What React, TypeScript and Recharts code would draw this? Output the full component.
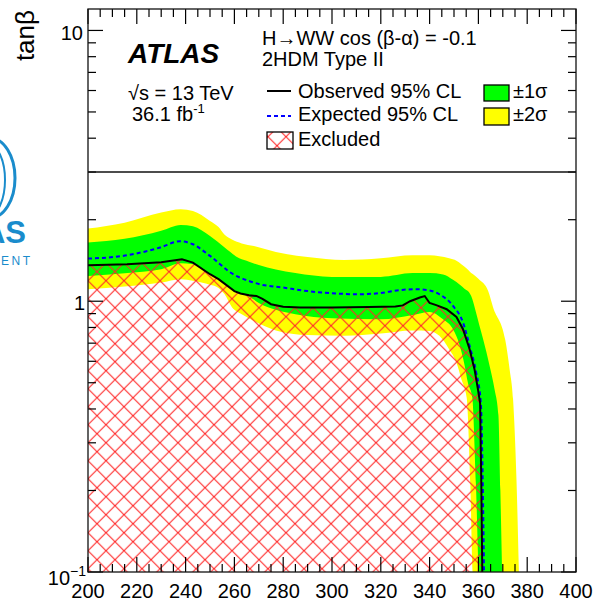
import { ComposedChart, Area, Line, XAxis, YAxis } from "recharts"

// ±2σ band (yellow), tanβ vs mH
const band2Mass = [200, 215, 230, 238, 243, 250, 253.5, 256, 259, 263, 268, 277, 290, 305, 320, 333, 340, 344, 348, 351, 353, 355.2, 356.7, 357.7, 360, 364, 366, 371, 372.8, 374.2, 375.6, 376.6]
const band2Low = [1.107, 1.133, 1.172, 1.206, 1.19, 1.15, 1.12, 1.06, 0.95, 0.895, 0.845, 0.78, 0.75, 0.745, 0.76, 0.78, 0.777, 0.745, 0.665, 0.594, 0.516, 0.44, 0.21, 0.1, 0.1, 0.1, 0.1, 0.1, 0.1, 0.1, 0.1, 0.1]
const band2High = [1.855, 1.95, 2.125, 2.185, 2.155, 1.98, 1.88, 1.76, 1.69, 1.635, 1.6, 1.52, 1.455, 1.42, 1.44, 1.478, 1.478, 1.465, 1.44, 1.41, 1.37, 1.32, 1.28, 1.26, 1.21, 1.09, 0.95, 0.72, 0.56, 0.435, 0.22, 0.1]

// ±1σ band (green)
const band1Mass = [200, 215, 230, 238, 243, 250, 256, 262, 266, 270, 277, 285, 300, 320, 333, 340, 345.5, 349.6, 352.4, 354.4, 355.7, 357.5, 359, 360.3, 362, 364.6, 366.6, 368.2, 369, 369.7]
const band1Low = [1.24, 1.268, 1.312, 1.38, 1.37, 1.26, 1.16, 1.07, 1.04, 0.985, 0.93, 0.895, 0.865, 0.858, 0.89, 0.913, 0.858, 0.788, 0.684, 0.577, 0.5, 0.44, 0.21, 0.1, 0.1, 0.1, 0.1, 0.1, 0.1, 0.1]
const band1High = [1.646, 1.7, 1.82, 1.913, 1.89, 1.74, 1.58, 1.44, 1.4, 1.36, 1.31, 1.27, 1.23, 1.23, 1.27, 1.27, 1.255, 1.2, 1.15, 1.11, 1.09, 1.02, 0.91, 0.82, 0.72, 0.577, 0.474, 0.38, 0.2, 0.1]

// observed limit
const obsMass = [200, 216, 230, 238.5, 243, 250, 253.5, 260, 262.5, 266, 269, 271.5, 275, 280, 287, 300, 315, 326, 329, 332, 336, 338, 340, 343, 347, 351, 353.7, 356.4, 358.4, 359.8, 360.7, 361.2, 361.6]
const obsVal = [1.358, 1.369, 1.393, 1.428, 1.389, 1.258, 1.206, 1.09, 1.068, 1.052, 1.046, 1.02, 0.975, 0.955, 0.948, 0.948, 0.952, 0.956, 0.965, 1.0, 1.032, 1.045, 0.985, 0.965, 0.934, 0.875, 0.788, 0.665, 0.561, 0.474, 0.42, 0.21, 0.1]

// expected limit
const expMass = [200, 216, 229.5, 237.7, 243, 250, 259.5, 266, 270.4, 280, 290, 300, 311, 319, 328, 334.6, 340, 344, 349.6, 353.7, 356.4, 359.1, 361, 361.8, 362.3]
const expVal = [1.437, 1.478, 1.578, 1.665, 1.623, 1.47, 1.258, 1.188, 1.155, 1.123, 1.09, 1.07, 1.061, 1.07, 1.1, 1.107, 1.095, 1.061, 0.961, 0.834, 0.684, 0.545, 0.42, 0.21, 0.1]

const xTicks = Array.from({ length: 41 }, (_, i) => 200 + i * 5)
const yTicks = [0.1, 0.2, 0.3, 0.4, 0.5, 0.6, 0.7, 0.8, 0.9, 1, 2, 3, 4, 5, 6, 7, 8, 9, 10]

const W = 596
const H = 604
const LEFT = 88
const TOP = 9
const RIGHT = 576
const BOTTOM = 572
const FONT = "'Liberation Sans', Arial, Helvetica, sans-serif"

const band2 = band2Mass.map((m, i) => ({ m, v: [band2Low[i], band2High[i]] }))
const band1 = band1Mass.map((m, i) => ({ m, v: [band1Low[i], band1High[i]] }))
const observed = obsMass.map((m, i) => ({ m, v: obsVal[i], r: [0.1, obsVal[i]] }))
const expected = expMass.map((m, i) => ({ m, v: expVal[i] }))

function XTick(props: any) {
  const { x, payload } = props
  const v = payload.value
  const major = v % 20 === 0
  const len = major ? 15 : 8
  return (
    <g>
      <line x1={x} x2={x} y1={BOTTOM} y2={BOTTOM - len} stroke="#000" strokeWidth={1.2} />
      <line x1={x} x2={x} y1={TOP} y2={TOP + len} stroke="#000" strokeWidth={1.2} />
      {major && (
        <text x={x} y={BOTTOM + 26} textAnchor="middle" fontSize={20} fontFamily={FONT} fill="#000">
          {v}
        </text>
      )}
    </g>
  )
}

function YTick(props: any) {
  const { y, payload } = props
  const v = payload.value
  const major = v === 0.1 || v === 1 || v === 10
  const len = major ? 15 : 8
  let label = null
  if (v === 10) label = <text x={LEFT - 5} y={y + 10} textAnchor="end" fontSize={20} fontFamily={FONT}>10</text>
  if (v === 1) label = <text x={LEFT - 3} y={y + 9} textAnchor="end" fontSize={20} fontFamily={FONT}>1</text>
  if (v === 0.1)
    label = (
      <text x={LEFT - 2} y={y + 13} textAnchor="end" fontSize={20} fontFamily={FONT}>
        10<tspan dy={-9} fontSize={14}>−1</tspan>
      </text>
    )
  return (
    <g>
      <line x1={LEFT} x2={LEFT + len} y1={y} y2={y} stroke="#000" strokeWidth={1.2} />
      <line x1={RIGHT} x2={RIGHT - len} y1={y} y2={y} stroke="#000" strokeWidth={1.2} />
      {label}
    </g>
  )
}

export default function App() {
  return (
    <div style={{ position: "absolute", left: 0, top: 0, width: W, height: H, background: "#fff", fontFamily: FONT }}>
      <svg width={0} height={0} style={{ position: "absolute" }}>
        <defs>
          <pattern id="hatch" patternUnits="userSpaceOnUse" x={88} y={10.7} width={18} height={18}>
            <path d="M0,0 L18,18 M0,18 L18,0" stroke="#ff2a2a" strokeWidth={1.1} />
          </pattern>
        </defs>
      </svg>
      <ComposedChart width={W} height={H} margin={{ top: TOP, right: W - RIGHT, bottom: 0, left: 28 }}>
        <XAxis
          dataKey="m"
          type="number"
          domain={[200, 400]}
          ticks={xTicks}
          interval={0}
          allowDataOverflow
          height={32}
          axisLine={false}
          tickLine={false}
          tickSize={0}
          tickMargin={0}
          tick={<XTick />}
        />
        <YAxis
          type="number"
          scale="log"
          domain={[0.1, 12]}
          ticks={yTicks}
          interval={0}
          allowDataOverflow
          width={60}
          axisLine={false}
          tickLine={false}
          tickSize={0}
          tickMargin={0}
          tick={<YTick />}
        />
        <Area data={band2} dataKey="v" type="monotone" stroke="none" fill="#ffff00" fillOpacity={1} isAnimationActive={false} />
        <Area data={band1} dataKey="v" type="monotone" stroke="none" fill="#00ff00" fillOpacity={1} isAnimationActive={false} />
        <Area data={observed} dataKey="r" type="linear" stroke="none" fill="url(#hatch)" fillOpacity={1} isAnimationActive={false} />
        <Line data={expected} dataKey="v" type="monotone" stroke="#0000ff" strokeWidth={2} strokeDasharray="4 3" dot={false} isAnimationActive={false} />
        <Line data={observed} dataKey="v" type="linear" stroke="#000" strokeWidth={2} dot={false} isAnimationActive={false} />
      </ComposedChart>
      <svg width={W} height={H} style={{ position: "absolute", left: 0, top: 0, pointerEvents: "none" }} fontFamily={FONT}>
        {/* frame and legend border */}
        <rect x={LEFT} y={TOP} width={RIGHT - LEFT} height={BOTTOM - TOP} fill="none" stroke="#111" strokeWidth={1.3} />
        <line x1={LEFT} x2={RIGHT} y1={172} y2={172} stroke="#111" strokeWidth={1.6} />
        <text transform="translate(34,10) rotate(-90)" textAnchor="end" fontSize={26}>tanβ</text>

        {/* ATLAS logo fragment */}
        <g stroke="#1a8ccc" fill="none">
          <ellipse cx={-10} cy={178} rx={25} ry={40} strokeWidth={3} />
          <ellipse cx={-12} cy={180} rx={17} ry={36} strokeWidth={2} />
        </g>
        <text x={26} y={243} textAnchor="end" fontSize={31} fontWeight="bold" fill="#1a8ccc">AS</text>
        <text x={1} y={265} fontSize={12} fill="#1a8ccc" letterSpacing={2.5}>ENT</text>

        <text x={128} y={63} fontSize={28} fontWeight="bold" fontStyle="italic">ATLAS</text>
        <text x={128} y={100} fontSize={20}>√s = 13 TeV</text>
        <text x={132} y={121} fontSize={20}>
          36.1 fb<tspan dy={-8} fontSize={13}>-1</tspan>
        </text>
        <text x={262} y={45} fontSize={20}>H→WW cos (β-α) = -0.1</text>
        <text x={262} y={66} fontSize={20}>2HDM Type II</text>

        <line x1={267} x2={291} y1={91} y2={91} stroke="#000" strokeWidth={2} />
        <text x={298} y={98} fontSize={20}>Observed 95% CL</text>
        <line x1={267} x2={291} y1={116} y2={116} stroke="#0000ff" strokeWidth={2} strokeDasharray="4 3" />
        <text x={298} y={121} fontSize={20}>Expected 95% CL</text>
        <rect x={267} y={132} width={26} height={17} fill="url(#hatch)" stroke="#000" strokeWidth={1.3} />
        <text x={298} y={145.5} fontSize={20}>Excluded</text>

        <rect x={484} y={85} width={25} height={16} fill="#00ff00" stroke="#000" strokeWidth={1.3} />
        <text x={513} y={98} fontSize={20}>±1σ</text>
        <rect x={484} y={108} width={25} height={17} fill="#ffff00" stroke="#000" strokeWidth={1.3} />
        <text x={513} y={121} fontSize={20}>±2σ</text>
      </svg>
    </div>
  )
}
